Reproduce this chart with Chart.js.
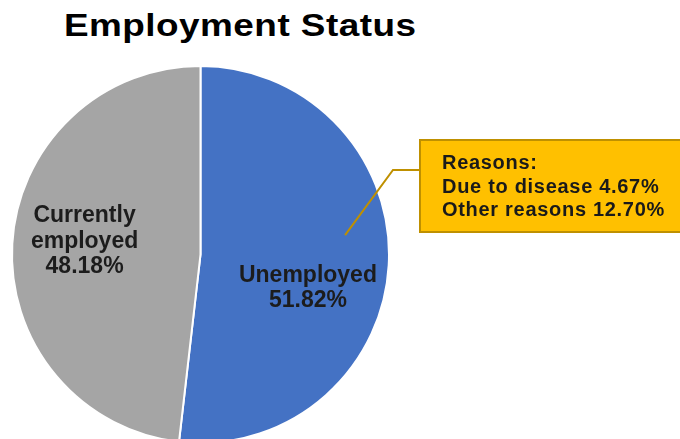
<!DOCTYPE html>
<html>
<head>
<meta charset="utf-8">
<script src="https://cdn.jsdelivr.net/npm/chart.js@4/dist/chart.umd.min.js"></script>
<style>
  html, body { margin: 0; padding: 0; background: #ffffff; overflow: hidden; }
  #wrap { position: relative; width: 680px; height: 439px; overflow: hidden; }
  #chart { position: absolute; left: 0; top: 0; }
  #title {
    position: absolute; left: 64px; top: 6px;
    font-family: "Liberation Sans", Arial, sans-serif; font-weight: bold;
    font-size: 31px; line-height: 40px; letter-spacing: 0.4px; color: #000;
    transform: scaleX(1.19); transform-origin: left top; white-space: nowrap;
  }
</style>
</head>
<body>
<div id="wrap">
  <div id="title">Employment Status</div>
  <canvas id="chart" width="680" height="460"></canvas>
</div>
<script>
// Employment status shares (percent of respondents)
const categories = ['Unemployed', 'Currently employed'];
const shares = [51.82, 48.18];
const sliceColors = ['#4472C4', '#A5A5A5'];

// Breakdown of the unemployed group, shown in the callout
const reasonsHeading = 'Reasons:';
const reasonLabels = ['Due to disease', 'Other reasons'];
const reasonShares = [4.67, 12.70];

// Where each slice label sits, as a fraction of the radius from the centre
const labelAnchors = [[0.57, 0.145], [-0.615, -0.17]];

const labelFont = 'bold 23px "Liberation Sans", Arial, sans-serif';
const calloutFont = 'bold 20px "Liberation Sans", Arial, sans-serif';

function wrapWords(ctx, text, maxWidth) {
  const words = text.split(' ');
  const lines = [];
  let cur = '';
  for (const w of words) {
    const test = cur ? cur + ' ' + w : w;
    if (cur && ctx.measureText(test).width > maxWidth) { lines.push(cur); cur = w; }
    else cur = test;
  }
  if (cur) lines.push(cur);
  return lines;
}

const sliceLabels = {
  id: 'sliceLabels',
  afterDatasetsDraw(chart) {
    const ctx = chart.ctx;
    const meta = chart.getDatasetMeta(0);
    const values = chart.data.datasets[0].data;
    ctx.save();
    ctx.font = labelFont;
    ctx.fillStyle = '#1c1c1c';
    ctx.textAlign = 'center';
    ctx.textBaseline = 'alphabetic';
    meta.data.forEach((arc, i) => {
      const r = arc.outerRadius;
      const ax = arc.x + labelAnchors[i][0] * r;
      const ay = arc.y + labelAnchors[i][1] * r;
      const lines = wrapWords(ctx, chart.data.labels[i], 150);
      lines.push(values[i].toFixed(2) + '%');
      lines.forEach((ln, k) => ctx.fillText(ln, ax, ay + k * 25.5));
    });
    ctx.restore();
  }
};

const reasonsCallout = {
  id: 'reasonsCallout',
  afterDatasetsDraw(chart) {
    const ctx = chart.ctx;
    const arc = chart.getDatasetMeta(0).data[0];
    const r = arc.outerRadius;
    const box = { x: 420, y: 140, w: 280, h: 92 };
    const elbow = { x: 393, y: 170 };
    ctx.save();
    // leader line from inside the unemployed slice to the callout box
    ctx.strokeStyle = '#BF9000';
    ctx.lineWidth = 2;
    ctx.beginPath();
    ctx.moveTo(arc.x + 0.767 * r, arc.y - 0.103 * r);
    ctx.lineTo(elbow.x, elbow.y);
    ctx.lineTo(box.x, elbow.y);
    ctx.stroke();
    // callout box
    ctx.fillStyle = '#FFC000';
    ctx.fillRect(box.x, box.y, box.w, box.h);
    ctx.strokeRect(box.x, box.y, box.w, box.h);
    // callout text
    ctx.font = calloutFont;
    ctx.letterSpacing = '0.7px';
    ctx.fillStyle = '#1a1a1a';
    ctx.textAlign = 'left';
    ctx.textBaseline = 'alphabetic';
    const lines = [reasonsHeading].concat(
      reasonLabels.map((l, i) => l + ' ' + reasonShares[i].toFixed(2) + '%'));
    lines.forEach((ln, k) => ctx.fillText(ln, box.x + 22, box.y + 29 + k * 23.5));
    ctx.restore();
  }
};

new Chart(document.getElementById('chart'), {
  type: 'pie',
  data: {
    labels: categories,
    datasets: [{
      data: shares,
      backgroundColor: sliceColors,
      borderColor: '#ffffff',
      borderWidth: 2
    }]
  },
  options: {
    responsive: false,
    animation: false,
    devicePixelRatio: 1,
    layout: { padding: { left: 10, top: 65, right: 289, bottom: 16 } },
    plugins: {
      legend: { display: false },
      tooltip: { enabled: false },
      title: { display: false }
    }
  },
  plugins: [sliceLabels, reasonsCallout]
});
</script>
</body>
</html>
